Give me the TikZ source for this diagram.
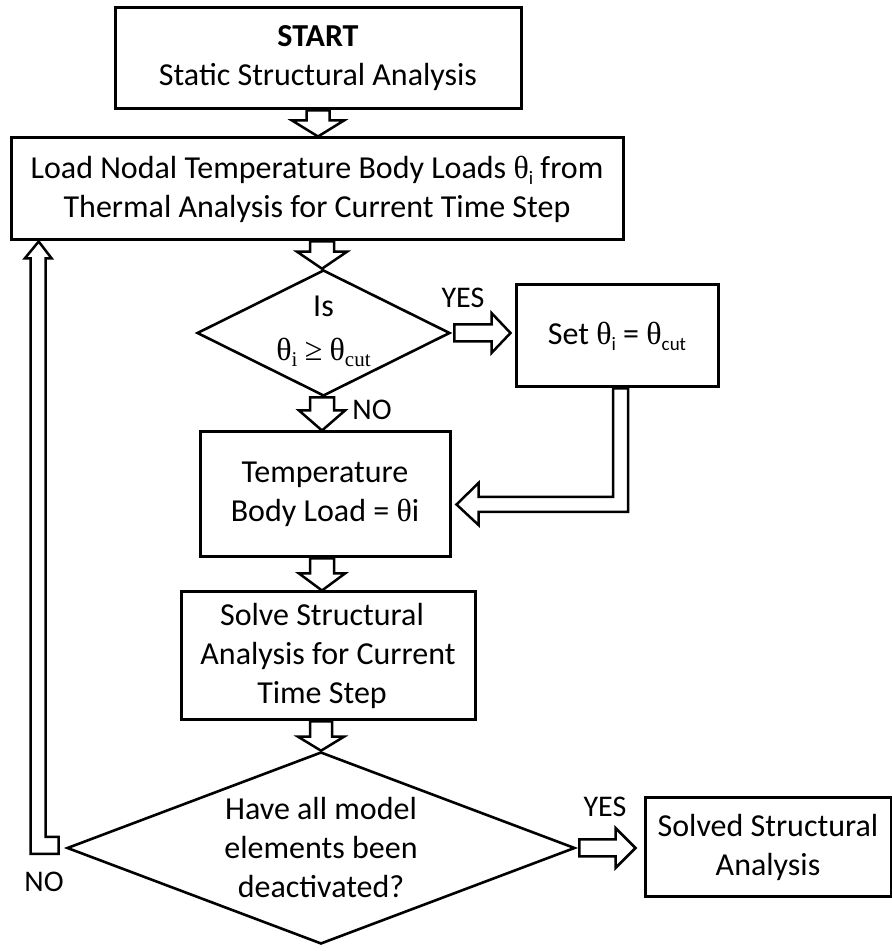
\documentclass[tikz,border=0pt]{standalone}
\usepackage{fontspec}
\setmainfont{Carlito}
\newfontfamily\grk{Liberation Serif}
\usetikzlibrary{shapes.geometric,calc}
\newcommand\thet{{\grk θ}}
\newcommand\lowsub[1]{\raisebox{-6pt}{\fontsize{19}{19}\selectfont #1}}
\newcommand\lowsubs[1]{\raisebox{-6pt}{\grk\fontsize{21}{21}\selectfont #1}}
\newcommand\vblock[6]{\draw[barrow] let \p1=(#1), \p2=(#2), \p3=(#3) in
  (\x3-#4,\y1) -- (\x3+#4,\y1) -- (\x3+#4,\y2+#6) -- (\x3+#5,\y2+#6) -- (\x3,\y2)
  -- (\x3-#5,\y2+#6) -- (\x3-#4,\y2+#6) -- cycle;}
\begin{document}
\begin{tikzpicture}[x=1pt,y=1pt,
  box/.style={draw, line width=3pt, fill=white, inner sep=0pt, align=center, font=\fontsize{32}{39}\selectfont},
  dia/.style={draw, diamond, line width=2.6pt, inner sep=0pt},
  txt/.style={inner sep=0pt, align=center, font=\fontsize{32}{39}\selectfont},
  lbl/.style={inner sep=0pt, font=\fontsize{30}{35}\selectfont},
  barrow/.style={draw, fill=white, line width=2.5pt, line join=miter}]
\useasboundingbox (0,0) rectangle (892,951);
\fill[white] (0,0) rectangle (892,951);
% nodes
\node[box, minimum width=406, minimum height=101] (start) at (318,892.5) {\textbf{START}\\Static Structural Analysis};
\node[box, minimum width=612, minimum height=102] (load) at (317,762) {Load Nodal Temperature Body Loads \thet\lowsub{i} from\\Thermal Analysis for Current Time Step};
\node[dia, minimum width=253, minimum height=126] (d1) at (323.5,618) {};
\node[txt] (d1t) at (323.5,620) {Is\\[5pt]\thet\lowsubs{i} {\grk ≥} \thet\lowsubs{cut}};
\node[box, minimum width=202, minimum height=102] (set) at (617,615) {Set \thet\lowsub{i} = \thet\lowsub{cut}};
\node[box, minimum width=250, minimum height=125] (temp) at (325,456.5) {Temperature\\Body Load = \thet i};
\node[box, minimum width=294, minimum height=128] (solve) at (328,295) {Solve Structural\hspace*{12pt}\\Analysis for Current\hspace*{12pt}\\Time Step\hspace*{12pt}};
\node[dia, minimum width=508, minimum height=192] (d2) at (321,103) {};
\node[txt] (d2t) at (321,103) {Have all model\\elements been\\deactivated?};
\node[box, minimum width=246, minimum height=99] (solved) at (768,103.5) {Solved Structural\\Analysis};
% labels
\node[lbl] (yes1) at (463,653) {YES};
\node[lbl] (no1) at (372,541) {NO};
\node[lbl] (yes2) at (605,144) {YES};
\node[lbl] (no2) at (44,69) {NO};
% column coordinates
\coordinate (c1) at (318,0);
\coordinate (c2) at (322,0);
\coordinate (c3) at (321,0);
% vertical block arrows
\vblock{start.south}{load.north}{c1}{11.5pt}{26pt}{16pt}
\vblock{load.south}{d1.north}{c2}{12pt}{25pt}{17pt}
\vblock{d1.south}{temp.north}{c2}{12pt}{23pt}{20pt}
\vblock{temp.south}{solve.north}{c2}{12pt}{23pt}{17pt}
\vblock{solve.south}{d2.north}{c3}{11pt}{23pt}{14pt}
% YES arrow to set
\draw[barrow] let \p1=(d1.east), \p2=(set.west) in
  (\x1+3pt,\y1+8.5pt) -- (\x2-23pt,\y1+8.5pt) -- (\x2-23pt,\y1+20pt) -- (\x2-4pt,\y1)
  -- (\x2-23pt,\y1-20pt) -- (\x2-23pt,\y1-8.5pt) -- (\x1+3pt,\y1-8.5pt) -- cycle;
% YES arrow to solved
\draw[barrow] let \p1=(d2.east), \p2=(solved.west) in
  (\x1+3pt,\y1+8.5pt) -- (\x2-28pt,\y1+8.5pt) -- (\x2-28pt,\y1+20pt) -- (\x2-8pt,\y1)
  -- (\x2-28pt,\y1-20pt) -- (\x2-28pt,\y1-8.5pt) -- (\x1+3pt,\y1-8.5pt) -- cycle;
% elbow arrow set -> temp
\draw[barrow] let \p1=(set.south), \p2=(temp.east) in
  (\x1-4pt,\y1) -- (\x1+11pt,\y1) -- (\x1+11pt,\y2-17.5pt) -- (\x2+27pt,\y2-17.5pt)
  -- (\x2+27pt,\y2-30.5pt) -- (\x2+5pt,\y2-10pt) -- (\x2+27pt,\y2+11.5pt)
  -- (\x2+27pt,\y2-2.5pt) -- (\x1-4pt,\y2-2.5pt) -- cycle;
% loop arrow d2 -> load
\draw[barrow] let \p1=(d2.west), \p2=(load.south) in
  (\x1-7pt,\y1+11pt) -- (\x1-20pt,\y1+11pt) -- (\x1-20pt,\y2-17pt) -- (\x1-14pt,\y2-17pt)
  -- (\x1-27pt,\y2) -- (\x1-41pt,\y2-17pt) -- (\x1-35pt,\y2-17pt) -- (\x1-35pt,\y1-6pt)
  -- (\x1-7pt,\y1-6pt) -- cycle;
\end{tikzpicture}
\end{document}
